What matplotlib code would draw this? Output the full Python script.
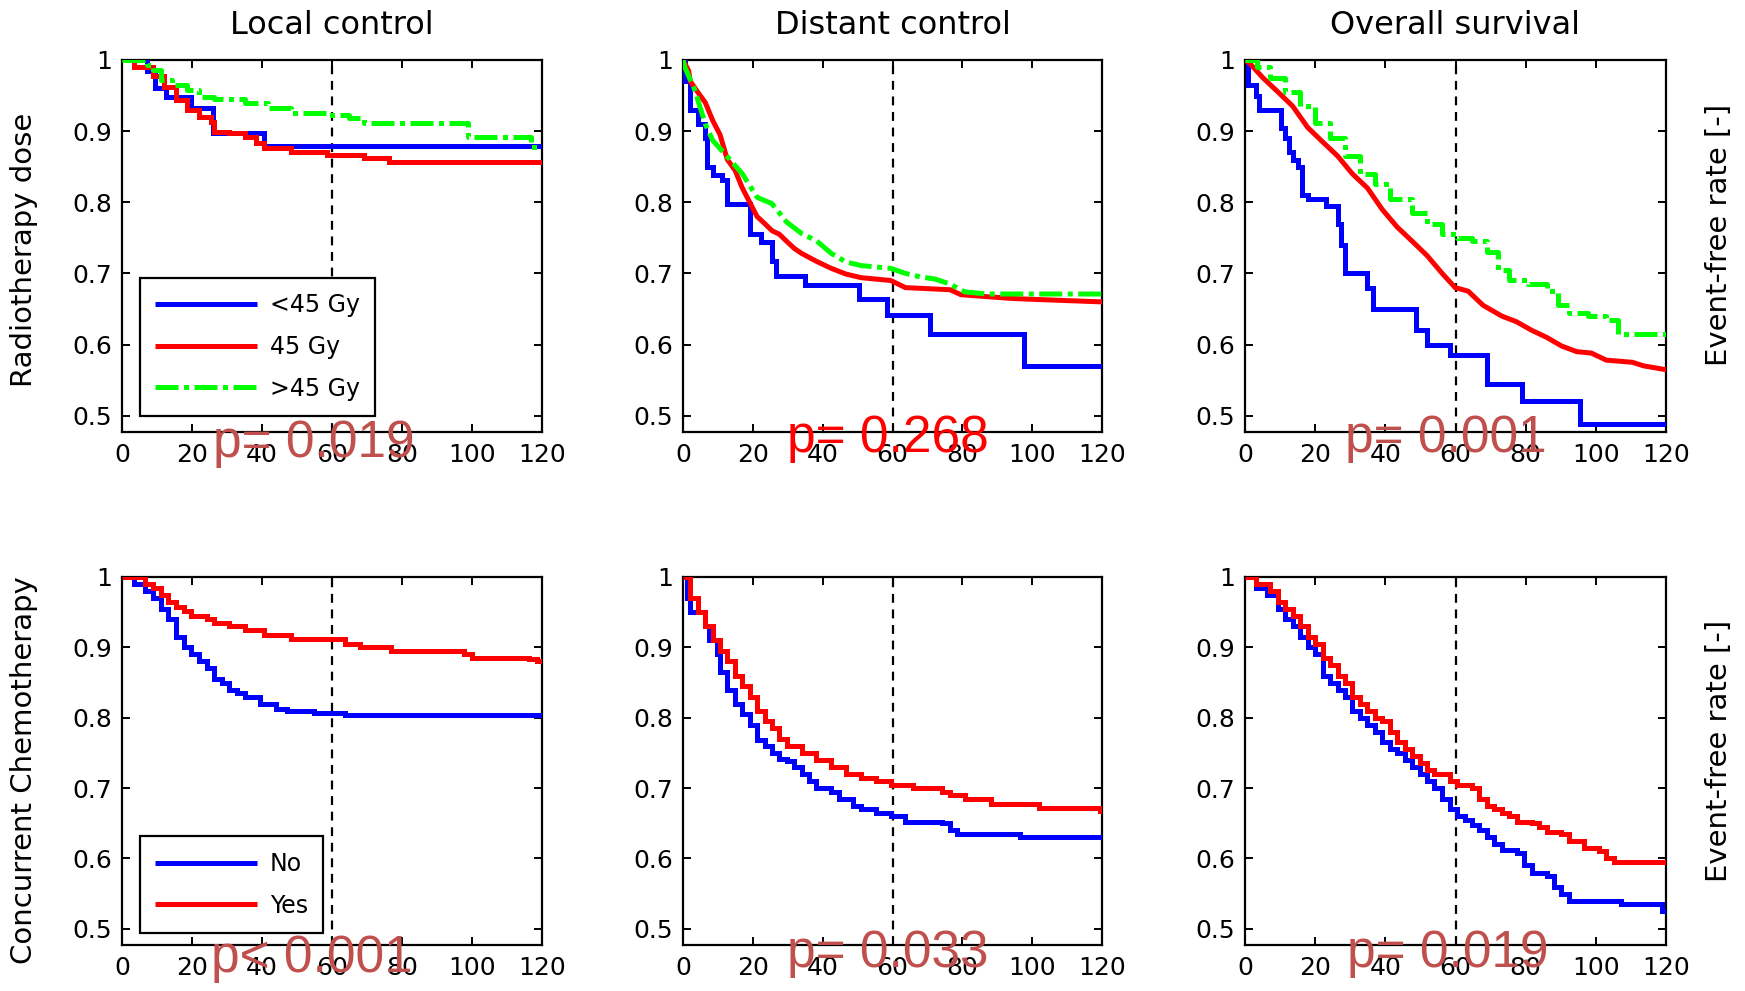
import matplotlib
matplotlib.use("Agg")
import matplotlib.pyplot as plt
from matplotlib.lines import Line2D

plt.rcParams['font.family'] = ['DejaVu Sans']

# ---------------- data ----------------
col_titles = ["Local control", "Distant control", "Overall survival"]
row_labels = ["Radiotherapy dose", "Concurrent Chemotherapy"]
right_label = "Event-free rate [-]"
x_ticks = [0, 20, 40, 60, 80, 100, 120]
y_ticks = [0.5, 0.6, 0.7, 0.8, 0.9, 1.0]
y_ticklabels = ["0.5", "0.6", "0.7", "0.8", "0.9", "1"]
rt_groups = ["<45 Gy", "45 Gy", ">45 Gy"]
cc_groups = ["No", "Yes"]
p_values = [["p= 0.019", "p= 0.268", "p= 0.001"],
            ["p< 0.001", "p= 0.033", "p= 0.019"]]
landmark_month = 60

# Local control, radiotherapy dose
lc_rt_lt45_t = [0, 7, 9.3, 12.6, 19.8, 26, 40.6, 120]
lc_rt_lt45_s = [1, 0.985, 0.96, 0.948, 0.932, 0.898, 0.879, 0.879]
lc_rt_45_t = [0, 3.3, 8.8, 12.1, 15.4, 18.7, 22, 25.3, 26.4, 30.7, 35.1, 38.4, 40.6, 48.3, 58.7, 69.2, 76.3, 120]
lc_rt_45_s = [1, 0.99, 0.977, 0.962, 0.944, 0.930, 0.92, 0.913, 0.899, 0.897, 0.892, 0.883, 0.876, 0.871, 0.866, 0.862, 0.857, 0.857]
lc_rt_gt45_t = [0, 7.1, 8.8, 11, 14.3, 18.7, 22, 26.4, 35.1, 41.7, 48.3, 58.2, 64.8, 69.2, 98.8, 116.9, 120]
lc_rt_gt45_s = [1, 0.993, 0.986, 0.972, 0.965, 0.958, 0.948, 0.945, 0.939, 0.932, 0.925, 0.923, 0.918, 0.911, 0.892, 0.878, 0.878]

# Distant control, radiotherapy dose
dc_rt_lt45_t = [0, 0.5, 2.1, 4.2, 6.4, 6.9, 8.5, 11.2, 12.7, 19.1, 22.3, 25.5, 26.5, 35, 50.4, 58.4, 70.6, 97.7, 120]
dc_rt_lt45_s = [1, 0.97, 0.93, 0.91, 0.89, 0.85, 0.838, 0.831, 0.798, 0.756, 0.744, 0.718, 0.697, 0.683, 0.664, 0.641, 0.615, 0.570, 0.570]
dc_rt_45_t = [0, 1.6, 2.1, 4.2, 6.4, 8.5, 10.6, 12.7, 14.9, 17, 19.1, 21.2, 23.4, 25.5, 27.6, 29.7, 31.9, 34, 38.2, 42.5, 46.7, 51, 55.2, 59.5, 63.7, 76.5, 79.6, 93.4, 97.7, 119.5, 120]
dc_rt_45_s = [1, 0.985, 0.97, 0.955, 0.94, 0.915, 0.895, 0.86, 0.845, 0.82, 0.80, 0.78, 0.77, 0.76, 0.755, 0.745, 0.735, 0.728, 0.717, 0.707, 0.699, 0.694, 0.692, 0.69, 0.68, 0.677, 0.67, 0.665, 0.664, 0.66, 0.66]
dc_rt_gt45_t = [0, 0.5, 3.2, 6.4, 8.5, 12.7, 17, 21.2, 25.5, 29.7, 34, 38.2, 42.5, 46.7, 51, 59.5, 63.7, 68, 72.2, 76.5, 80.7, 87.1, 120]
dc_rt_gt45_s = [1, 0.99, 0.96, 0.91, 0.887, 0.864, 0.84, 0.807, 0.798, 0.772, 0.756, 0.746, 0.728, 0.716, 0.711, 0.707, 0.70, 0.695, 0.692, 0.685, 0.674, 0.671, 0.671]

# Overall survival, radiotherapy dose
os_rt_lt45_t = [0, 0.85, 3, 4, 10.4, 11.5, 12.6, 13.6, 15.2, 16.3, 17.9, 23.2, 26.4, 27.4, 28.5, 34.9, 36.5, 48.7, 51.9, 58.3, 68.9, 79, 95.5, 120]
os_rt_lt45_s = [1, 0.965, 0.95, 0.93, 0.905, 0.89, 0.87, 0.86, 0.85, 0.81, 0.805, 0.795, 0.77, 0.74, 0.70, 0.68, 0.65, 0.62, 0.60, 0.585, 0.545, 0.52, 0.488, 0.488]
os_rt_45_t = [0, 1.4, 5.1, 9.4, 13.6, 17.9, 22.1, 26.4, 30.6, 34.9, 39.1, 43.4, 47.7, 51.9, 56.2, 59.9, 63.6, 67.9, 73.2, 77.4, 81.7, 86, 90.2, 94.5, 98.7, 103, 110.4, 113.6, 119.5, 120]
os_rt_45_s = [1, 0.995, 0.975, 0.955, 0.935, 0.905, 0.885, 0.865, 0.84, 0.82, 0.79, 0.765, 0.745, 0.725, 0.70, 0.68, 0.675, 0.655, 0.64, 0.632, 0.62, 0.61, 0.598, 0.59, 0.588, 0.578, 0.575, 0.57, 0.565, 0.565]
os_rt_gt45_t = [0, 3.5, 7.2, 11.5, 15.7, 20, 24.3, 28.5, 32.8, 37, 41.3, 47.7, 51.9, 56.2, 60.4, 64.7, 68.9, 72.1, 75.3, 80.6, 86, 89.1, 92.3, 97.7, 103, 106.2, 120]
os_rt_gt45_s = [1, 0.99, 0.975, 0.955, 0.935, 0.912, 0.89, 0.865, 0.84, 0.825, 0.805, 0.785, 0.77, 0.755, 0.75, 0.745, 0.73, 0.705, 0.69, 0.685, 0.675, 0.655, 0.645, 0.64, 0.635, 0.615, 0.615]

# Local control, concurrent chemotherapy
lc_cc_no_t = [0, 3.3, 6.6, 8.8, 11, 13.2, 15.4, 17.6, 19.8, 22, 24.2, 26.4, 28.5, 30.7, 32.9, 35.1, 39.5, 43.9, 47.2, 54.9, 63.7, 120]
lc_cc_no_s = [1, 0.99, 0.98, 0.97, 0.955, 0.94, 0.915, 0.90, 0.89, 0.88, 0.87, 0.855, 0.85, 0.84, 0.835, 0.83, 0.82, 0.813, 0.809, 0.807, 0.804, 0.804]
lc_cc_yes_t = [0, 6.6, 8.8, 11, 13.2, 15.4, 17.6, 19.8, 24.2, 26.4, 30.7, 35.1, 40.6, 48.3, 63.7, 68.1, 76.9, 97.7, 99.9, 116.4, 118.6, 120]
lc_cc_yes_s = [1, 0.99, 0.985, 0.975, 0.965, 0.957, 0.952, 0.945, 0.94, 0.935, 0.93, 0.925, 0.917, 0.912, 0.905, 0.90, 0.895, 0.89, 0.885, 0.883, 0.88, 0.88]

# Distant control, concurrent chemotherapy
dc_cc_no_t = [0, 1.1, 2.1, 6.4, 7.4, 9.6, 10.6, 12.7, 14.9, 17, 19.1, 21.2, 23.4, 25.5, 27.6, 29.7, 31.9, 34, 36.1, 38.2, 42.5, 44.6, 48.8, 51, 55.2, 59.5, 63.7, 74.3, 76.5, 78.6, 96.6, 120]
dc_cc_no_s = [1, 0.97, 0.95, 0.93, 0.91, 0.89, 0.865, 0.84, 0.82, 0.805, 0.79, 0.769, 0.76, 0.75, 0.742, 0.738, 0.73, 0.72, 0.71, 0.70, 0.695, 0.685, 0.675, 0.67, 0.665, 0.66, 0.652, 0.65, 0.64, 0.635, 0.63, 0.63]
dc_cc_yes_t = [0, 2.1, 4.2, 6.4, 8.5, 10.6, 12.7, 14.9, 17, 19.1, 21.2, 23.4, 25.5, 27.6, 29.7, 34, 38.2, 42.5, 46.7, 51, 55.2, 59.5, 65.8, 74.3, 76.5, 80.7, 88.1, 101.9, 119.5, 120]
dc_cc_yes_s = [1, 0.97, 0.95, 0.93, 0.91, 0.895, 0.88, 0.86, 0.845, 0.83, 0.81, 0.795, 0.785, 0.77, 0.76, 0.75, 0.74, 0.73, 0.72, 0.715, 0.71, 0.705, 0.70, 0.695, 0.69, 0.685, 0.678, 0.672, 0.668, 0.668]

# Overall survival, concurrent chemotherapy
os_cc_no_t = [0, 3, 6.2, 9.4, 11.5, 13.6, 15.7, 17.9, 20, 22.1, 24.3, 26.4, 28.5, 30.6, 32.8, 34.9, 37, 39.1, 41.3, 43.4, 45.5, 47.7, 49.8, 51.9, 54, 56.2, 58.3, 60.4, 62.6, 64.7, 66.8, 68.9, 71.1, 73.2, 77.4, 79.6, 81.7, 86, 88.1, 90.2, 92.3, 107.2, 118.9, 120]
os_cc_no_s = [1, 0.985, 0.975, 0.955, 0.94, 0.93, 0.915, 0.90, 0.89, 0.86, 0.85, 0.84, 0.83, 0.81, 0.80, 0.79, 0.78, 0.765, 0.755, 0.75, 0.74, 0.73, 0.72, 0.71, 0.70, 0.685, 0.67, 0.66, 0.655, 0.648, 0.64, 0.63, 0.62, 0.612, 0.608, 0.59, 0.58, 0.575, 0.56, 0.55, 0.54, 0.535, 0.525, 0.525]
os_cc_yes_t = [0, 3, 7.2, 9.4, 11.5, 13.6, 15.7, 17.9, 20, 22.1, 24.3, 26.4, 28.5, 30.6, 32.8, 34.9, 37, 39.1, 41.3, 43.4, 45.5, 47.7, 49.8, 51.9, 54, 58.3, 60.4, 64.7, 66.8, 68.9, 71.1, 73.2, 75.3, 77.4, 81.7, 83.8, 86, 90.2, 92.3, 96.6, 100.9, 103, 105.1, 120]
os_cc_yes_s = [1, 0.99, 0.98, 0.965, 0.955, 0.945, 0.93, 0.915, 0.905, 0.885, 0.875, 0.86, 0.85, 0.83, 0.82, 0.81, 0.80, 0.795, 0.78, 0.765, 0.755, 0.745, 0.735, 0.725, 0.72, 0.71, 0.705, 0.70, 0.685, 0.675, 0.67, 0.665, 0.66, 0.652, 0.65, 0.645, 0.638, 0.635, 0.625, 0.615, 0.61, 0.60, 0.595, 0.595]

# ---------------- styles ----------------
BLUE = (0, 0, 1)
RED = (1, 0, 0)
GREEN = (0, 1, 0)
LW = 3.6
GREEN_DASH = (4.6, 1.1, 1.0, 1.1)
P_COLORS = [["#C0504D", "#FF0000", "#C0504D"],
            ["#C0504D", "#C0504D", "#C0504D"]]
TICK_FS = 18
TITLE_FS = 23
LABEL_FS = 21
LEGEND_FS = 17
P_FS = 37

W, H = 1745, 991
fig = plt.figure(figsize=(W / 100, H / 100), dpi=100)

# axes pixel boxes
col_x = [(122, 542), (683, 1102), (1245, 1666)]
row_y = [(60, 432), (577, 945)]

panels = [
    [
        [(lc_rt_lt45_t, lc_rt_lt45_s), (lc_rt_45_t, lc_rt_45_s), (lc_rt_gt45_t, lc_rt_gt45_s)],
        [(dc_rt_lt45_t, dc_rt_lt45_s), (dc_rt_45_t, dc_rt_45_s), (dc_rt_gt45_t, dc_rt_gt45_s)],
        [(os_rt_lt45_t, os_rt_lt45_s), (os_rt_45_t, os_rt_45_s), (os_rt_gt45_t, os_rt_gt45_s)],
    ],
    [
        [(lc_cc_no_t, lc_cc_no_s), (lc_cc_yes_t, lc_cc_yes_s)],
        [(dc_cc_no_t, dc_cc_no_s), (dc_cc_yes_t, dc_cc_yes_s)],
        [(os_cc_no_t, os_cc_no_s), (os_cc_yes_t, os_cc_yes_s)],
    ],
]
# draw style per panel/series: dense curves look nearly continuous in the reference
draw_modes = [
    [['steps-post', 'steps-post', 'steps-post'],
     ['steps-post', 'default', 'default'],
     ['steps-post', 'default', 'steps-post']],
    [['steps-post', 'steps-post'],
     ['steps-post', 'steps-post'],
     ['steps-post', 'steps-post']],
]

series_styles = [
    [dict(color=BLUE, ls='-'), dict(color=RED, ls='-'), dict(color=GREEN, ls=(0, GREEN_DASH))],
    [dict(color=BLUE, ls='-'), dict(color=RED, ls='-')],
]

# p-text centre x and baseline y (pixels)
p_pos = [[(314, 457), (888, 452), (1446, 452)],
         [(312, 972), (888, 967), (1448, 967)]]

axes = []
for r in range(2):
    for c in range(3):
        l, rr = col_x[c]
        t, b = row_y[r]
        ax = fig.add_axes([l / W, 1 - b / H, (rr - l) / W, (b - t) / H])
        axes.append(ax)
        for (tt, ss), st, dm in zip(panels[r][c], series_styles[r], draw_modes[r][c]):
            ax.plot(tt, ss, drawstyle=dm, lw=LW, color=st['color'],
                    linestyle=st['ls'], solid_capstyle='butt', dash_capstyle='butt',
                    solid_joinstyle='miter', zorder=3)
        ax.axvline(landmark_month, color='black', lw=1.6, linestyle=(0, (4, 3)), zorder=2)
        ax.set_xlim(0, 120)
        ax.set_ylim(0.477, 1.0)
        ax.set_xticks(x_ticks)
        ax.set_xticklabels([str(v) for v in x_ticks])
        ax.set_yticks(y_ticks)
        ax.set_yticklabels(y_ticklabels)
        ax.tick_params(direction='in', length=6, width=1.4, top=True, right=True,
                       labelsize=TICK_FS, colors='black')
        ax.tick_params(axis='x', pad=8)
        ax.tick_params(axis='y', pad=7)
        for sp in ax.spines.values():
            sp.set_linewidth(1.6)
            sp.set_color('black')
        if r == 0:
            ax.set_title(col_titles[c], fontsize=TITLE_FS, pad=19)

# legends
leg_specs = [
    (axes[0], rt_groups, series_styles[0], (0.043, 0.043)),
    (axes[3], cc_groups, series_styles[1], (0.043, 0.033)),
]
for ax, labels, styles, anchor in leg_specs:
    handles = [Line2D([0], [0], color=st['color'], lw=LW, linestyle=st['ls'],
                      solid_capstyle='butt', dash_capstyle='butt') for st in styles]
    leg = ax.legend(handles, labels, loc='lower left', bbox_to_anchor=anchor,
                    borderaxespad=0, fontsize=LEGEND_FS, handlelength=4.3, handletextpad=0.55,
                    labelspacing=0.75, borderpad=0.65, fancybox=False, framealpha=1,
                    edgecolor='black')
    leg.get_frame().set_linewidth(1.6)
    leg.set_zorder(5)

# row labels (left) and right labels
fig.text(24 / W, 1 - 250 / H, row_labels[0], rotation=90, ha='center', va='center', fontsize=LABEL_FS)
fig.text(24 / W, 1 - 770 / H, row_labels[1], rotation=90, ha='center', va='center', fontsize=LABEL_FS)
fig.text(1719 / W, 1 - 235 / H, right_label, rotation=90, ha='center', va='center', fontsize=LABEL_FS)
fig.text(1719 / W, 1 - 751 / H, right_label, rotation=90, ha='center', va='center', fontsize=LABEL_FS)

# p-values
for r in range(2):
    for c in range(3):
        px, py = p_pos[r][c]
        fig.text(px / W, 1 - py / H, p_values[r][c], ha='center', va='baseline',
                 fontsize=P_FS, color=P_COLORS[r][c], zorder=10,
                 family=['Liberation Sans', 'DejaVu Sans'])

fig.savefig("out.png", dpi=100, facecolor='white')
